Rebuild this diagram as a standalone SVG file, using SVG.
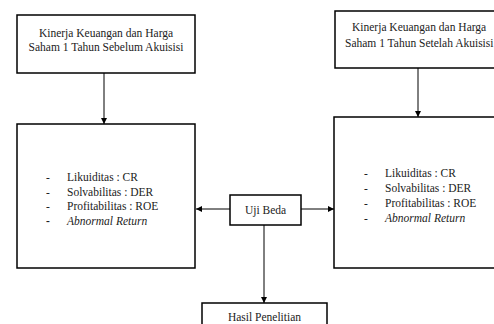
<svg xmlns="http://www.w3.org/2000/svg" width="494" height="324" viewBox="0 0 494 324">
<style>
.box{fill:#fff;stroke:#000;stroke-width:1.5}
.t{font-family:"Liberation Serif","Times New Roman",serif;font-size:11.5px;fill:#222}
.c{text-anchor:middle}
.ln{stroke:#000;stroke-width:1;fill:none}
</style>
<defs>
<marker id="ah" viewBox="0 0 10 10" refX="10" refY="5" markerWidth="6" markerHeight="6" markerUnits="userSpaceOnUse" orient="auto">
<path d="M0,0 L10,5 L0,10 Z" fill="#000"/>
</marker>
</defs>
<g id="connectors">
<line class="ln" x1="104" y1="73" x2="104" y2="124" marker-end="url(#ah)"/>
<line class="ln" x1="418" y1="68" x2="418" y2="117" marker-end="url(#ah)"/>
<line class="ln" x1="230" y1="209" x2="196" y2="209" marker-end="url(#ah)"/>
<line class="ln" x1="301" y1="209" x2="334" y2="209" marker-end="url(#ah)"/>
<line class="ln" x1="264" y1="225" x2="264" y2="303" marker-end="url(#ah)"/>
</g>
<g id="before-title">
<rect class="box" x="17" y="15" width="178" height="58"/>
<text class="t c" x="106" y="37">Kinerja Keuangan dan Harga</text>
<text class="t c" x="106" y="51">Saham 1 Tahun Sebelum Akuisisi</text>
</g>
<g id="after-title">
<rect class="box" x="335" y="11" width="180" height="57"/>
<text class="t" x="352" y="31">Kinerja Keuangan dan Harga</text>
<text class="t" x="345" y="47">Saham 1 Tahun Setelah Akuisisi</text>
</g>
<g id="before-vars">
<rect class="box" x="17" y="124" width="178" height="144"/>
<text class="t" x="46" y="181">-</text>
<text class="t" x="67" y="181">Likuiditas : CR</text>
<text class="t" x="46" y="195.5">-</text>
<text class="t" x="67" y="195.5">Solvabilitas : DER</text>
<text class="t" x="46" y="210">-</text>
<text class="t" x="67" y="210">Profitabilitas : ROE</text>
<text class="t" x="46" y="225" font-weight="bold">-</text>
<text class="t" x="67" y="225" font-style="italic">Abnormal Return</text>
</g>
<g id="after-vars">
<rect class="box" x="334" y="117" width="180" height="151"/>
<text class="t" x="364" y="177">-</text>
<text class="t" x="385" y="177">Likuiditas : CR</text>
<text class="t" x="364" y="192">-</text>
<text class="t" x="385" y="192">Solvabilitas : DER</text>
<text class="t" x="364" y="207">-</text>
<text class="t" x="385" y="207">Profitabilitas : ROE</text>
<text class="t" x="364" y="222">-</text>
<text class="t" x="385" y="222" font-style="italic">Abnormal Return</text>
</g>
<g id="uji-beda">
<rect class="box" x="230" y="195" width="71" height="30"/>
<text class="t c" x="265.5" y="214">Uji Beda</text>
</g>
<g id="hasil">
<rect class="box" x="202" y="303" width="125" height="30"/>
<text class="t c" x="264.5" y="321">Hasil Penelitian</text>
</g>
</svg>
